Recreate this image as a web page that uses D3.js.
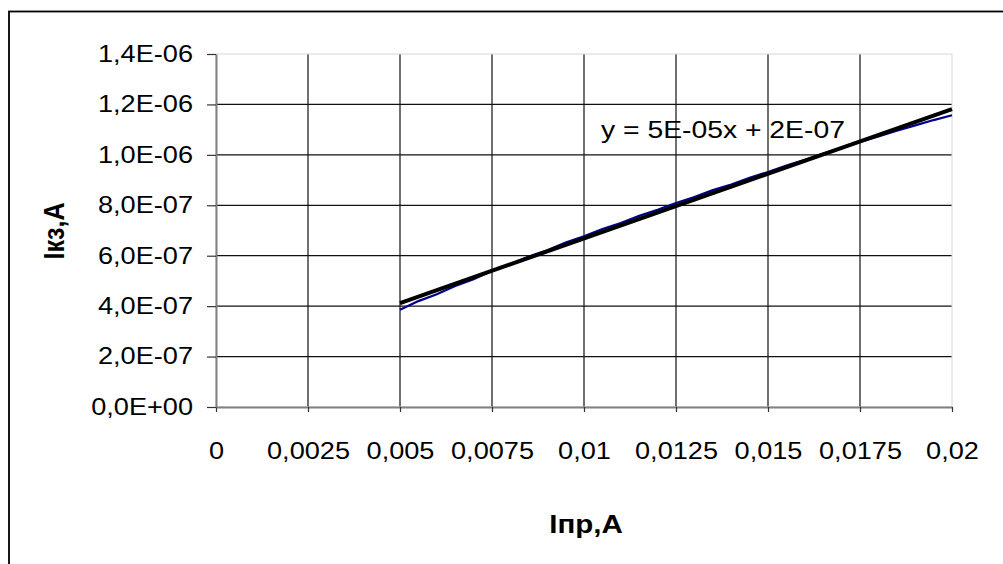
<!DOCTYPE html>
<html>
<head>
<meta charset="utf-8">
<script src="https://cdn.jsdelivr.net/npm/d3@7"></script>
<style>
  body { margin: 0; background: #fff; }
  svg { display: block; }
  text { font-family: "Liberation Sans", Arial, sans-serif; fill: #000; }
</style>
</head>
<body>
<script>
const canvasWidth = 1003,
  canvasHeight = 564;

// measured data, Iпр (A) vs Iкз (A)
const iPr = [
  0.005, 0.0055, 0.006, 0.0065, 0.007, 0.0075, 0.008, 0.0085, 0.009, 0.0095,
  0.01, 0.0105, 0.011, 0.0115, 0.012, 0.0125, 0.013, 0.0135, 0.014, 0.0145,
  0.015, 0.0155, 0.016, 0.0165, 0.017, 0.0175, 0.018, 0.0185, 0.019, 0.0195, 0.02
];
const iKz = [
  3.86e-7, 4.20e-7, 4.47e-7, 4.80e-7, 5.07e-7, 5.40e-7, 5.66e-7, 5.97e-7, 6.22e-7, 6.52e-7,
  6.77e-7, 7.06e-7, 7.30e-7, 7.58e-7, 7.82e-7, 8.09e-7, 8.33e-7, 8.60e-7, 8.82e-7, 9.09e-7,
  9.32e-7, 9.58e-7, 9.80e-7, 10.05e-7, 10.27e-7, 10.51e-7, 10.73e-7, 10.96e-7, 11.17e-7, 11.38e-7, 11.57e-7
];

const xTicks = [0, 0.0025, 0.005, 0.0075, 0.01, 0.0125, 0.015, 0.0175, 0.02];
const xTickLabels = ["0", "0,0025", "0,005", "0,0075", "0,01", "0,0125", "0,015", "0,0175", "0,02"];
const yTicks = [0, 2e-7, 4e-7, 6e-7, 8e-7, 1e-6, 1.2e-6, 1.4e-6];
const yTickLabels = ["0,0E+00", "2,0E-07", "4,0E-07", "6,0E-07", "8,0E-07", "1,0E-06", "1,2E-06", "1,4E-06"];
const trendLabel = "y = 5E-05x + 2E-07";
const xTitle = "Iпр,A";
const yTitle = "Iкз,A";

const plot = { left: 216, right: 952, top: 54, bottom: 407 };
const stretch = "scale(1.18,1)";

var svg = d3
  .select("body")
  .append("svg")
  .attr("width", canvasWidth)
  .attr("height", canvasHeight);

// chart frame (runs off the bottom/right of the picture)
svg
  .append("rect")
  .attr("x", 9)
  .attr("y", 11.5)
  .attr("width", 1010)
  .attr("height", 600)
  .attr("fill", "none")
  .attr("stroke", "#000")
  .attr("stroke-width", 1.8);

let x = d3.scaleLinear().domain([0, 0.02]).range([plot.left, plot.right]);
let y = d3.scaleLinear().domain([0, 1.4e-6]).range([plot.bottom, plot.top]);

// gridlines
svg
  .append("g")
  .selectAll("line.hgrid")
  .data(yTicks.slice(1, -1))
  .enter()
  .append("line")
  .attr("x1", plot.left)
  .attr("x2", plot.right)
  .attr("y1", d => y(d))
  .attr("y2", d => y(d))
  .attr("stroke", "#111")
  .attr("stroke-width", 1.2);

svg
  .append("g")
  .selectAll("line.vgrid")
  .data(xTicks.slice(1, -1))
  .enter()
  .append("line")
  .attr("x1", d => x(d))
  .attr("x2", d => x(d))
  .attr("y1", plot.top)
  .attr("y2", plot.bottom)
  .attr("stroke", "#111")
  .attr("stroke-width", 1.2);

// faint plot area border
svg
  .append("rect")
  .attr("x", plot.left)
  .attr("y", plot.top)
  .attr("width", plot.right - plot.left)
  .attr("height", plot.bottom - plot.top)
  .attr("fill", "none")
  .attr("stroke", "#d8d8d8")
  .attr("stroke-width", 1);

// axes
let xAxis = svg
  .append("g")
  .attr("transform", `translate(0,${plot.bottom})`)
  .call(
    d3
      .axisBottom(x)
      .tickValues(xTicks)
      .tickSize(5)
      .tickSizeOuter(0)
      .tickFormat((d, i) => xTickLabels[i])
  );
xAxis.select(".domain").attr("stroke", "#808080").attr("stroke-width", 2);
xAxis.selectAll(".tick line").attr("stroke", "#333").attr("stroke-width", 1.2);
xAxis
  .selectAll(".tick text")
  .attr("y", 36)
  .attr("dy", "0.71em")
  .attr("transform", stretch)
  .style("font-size", "23px")
  .attr("font-family", null);

let yAxis = svg
  .append("g")
  .attr("transform", `translate(${plot.left},0)`)
  .call(
    d3
      .axisLeft(y)
      .tickValues(yTicks)
      .tickSize(9)
      .tickSizeOuter(0)
      .tickFormat((d, i) => yTickLabels[i])
  );
yAxis.select(".domain").attr("stroke", "#808080").attr("stroke-width", 2);
yAxis.selectAll(".tick line").attr("stroke", "#333").attr("stroke-width", 1.2);
yAxis
  .selectAll(".tick text")
  .attr("x", 0)
  .attr("dy", "0.32em")
  .attr("transform", "translate(-23,0) " + stretch)
  .style("font-size", "23px")
  .attr("font-family", null);

// data line
let points = iPr.map((v, i) => [v, iKz[i]]);
svg
  .append("path")
  .datum(points)
  .attr("fill", "none")
  .attr("stroke", "#00008b")
  .attr("stroke-width", 2.2)
  .attr("d", d3.line().x(d => x(d[0])).y(d => y(d[1])));

// least squares trendline, like the spreadsheet's linear trend
let mx = d3.mean(iPr),
  my = d3.mean(iKz);
let sxy = d3.sum(iPr, (v, i) => (v - mx) * (iKz[i] - my));
let sxx = d3.sum(iPr, v => (v - mx) * (v - mx));
let slope = sxy / sxx,
  intercept = my - slope * mx;
let trendEnds = d3.extent(iPr).map(v => [v, slope * v + intercept]);

svg
  .append("path")
  .datum(trendEnds)
  .attr("fill", "none")
  .attr("stroke", "#000")
  .attr("stroke-width", 4)
  .attr("d", d3.line().x(d => x(d[0])).y(d => y(d[1])));

svg
  .append("text")
  .attr("transform", `translate(601,138) ${stretch}`)
  .style("font-size", "24px")
  .text(trendLabel);

// axis titles
svg
  .append("text")
  .attr("transform", `translate(586,533) ${stretch}`)
  .attr("text-anchor", "middle")
  .style("font-size", "25px")
  .style("font-weight", "bold")
  .text(xTitle);

svg
  .append("text")
  .attr("transform", `translate(64,231) ${stretch} rotate(-90)`)
  .attr("text-anchor", "middle")
  .style("font-size", "25px")
  .style("font-weight", "bold")
  .text(yTitle);
</script>
</body>
</html>
